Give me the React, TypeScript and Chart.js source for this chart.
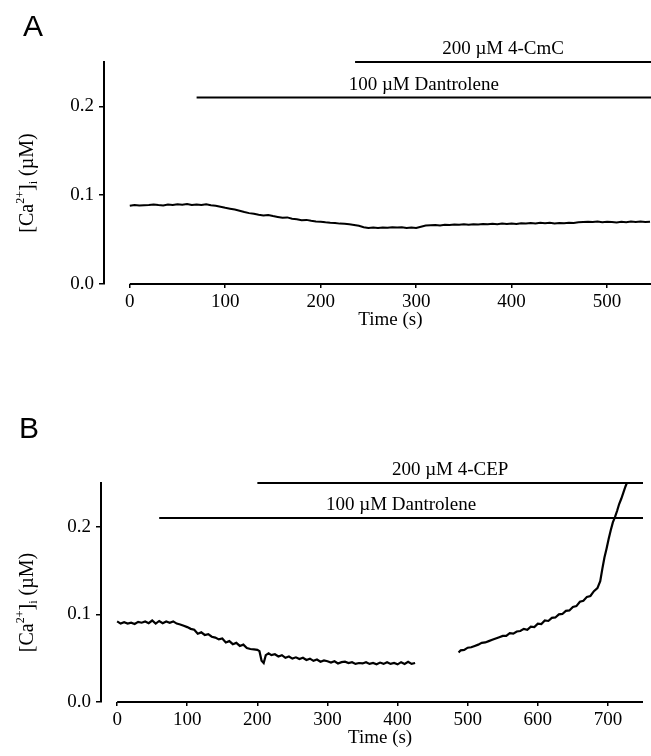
import React, { useEffect, useRef } from "react";
import { Chart, registerables } from "chart.js";
Chart.register(...registerables);

// ---------- Panel A ----------
const timeA = [
  0, 5, 10, 15, 20, 25, 30, 35, 40, 45,
  50, 55, 60, 65, 70, 75, 80, 85, 90, 95,
  100, 105, 110, 115, 120, 125, 130, 135, 140, 145,
  150, 155, 160, 165, 170, 175, 180, 185, 190, 195,
  200, 205, 210, 215, 220, 225, 230, 235, 240, 245,
  250, 255, 260, 265, 270, 275, 280, 285, 290, 295,
  300, 305, 310, 315, 320, 325, 330, 335, 340, 345,
  350, 355, 360, 365, 370, 375, 380, 385, 390, 395,
  400, 405, 410, 415, 420, 425, 430, 435, 440, 445,
  450, 455, 460, 465, 470, 475, 480, 485, 490, 495,
  500, 505, 510, 515, 520, 525, 530, 535, 540, 545,
];
const caA = [
  0.088, 0.089, 0.0883, 0.0887, 0.089, 0.0896, 0.0889, 0.0884, 0.0895, 0.0891,
  0.0899, 0.0893, 0.0901, 0.0889, 0.0894, 0.0891, 0.0897, 0.0888, 0.0881, 0.087,
  0.0858, 0.0848, 0.0838, 0.0825, 0.081, 0.0798, 0.079, 0.078, 0.0772, 0.0778,
  0.0765, 0.0755, 0.0745, 0.075, 0.0735, 0.0728, 0.0718, 0.0722, 0.0712, 0.0705,
  0.0702, 0.0695, 0.069, 0.0688, 0.068, 0.0678, 0.0672, 0.0665, 0.0655, 0.064,
  0.0632, 0.0635, 0.063, 0.0636, 0.0633, 0.064, 0.0635, 0.0638, 0.0631, 0.0636,
  0.0632, 0.0645, 0.0658, 0.0662, 0.0665, 0.066, 0.0668, 0.0664, 0.067, 0.0666,
  0.0672, 0.0667, 0.0674, 0.0671, 0.0676, 0.0672, 0.0679, 0.0674, 0.068, 0.0676,
  0.0682, 0.0677, 0.0684, 0.0681, 0.0686, 0.0682, 0.0689, 0.0684, 0.069, 0.0682,
  0.0688, 0.0684, 0.0691, 0.0686, 0.0695, 0.0698, 0.0702, 0.0697, 0.0705, 0.0696,
  0.0702, 0.0698, 0.0694, 0.07, 0.0696, 0.0703, 0.0698, 0.0703, 0.0699, 0.0702,
];
const xTicksA = [0, 100, 200, 300, 400, 500];
const xMinA = -27;
const xMaxA = 546;
const treatLabelsA = ["200 µM 4-CmC", "100 µM Dantrolene"];
const treatStartA = [236, 70];
const treatEndA = [546, 546];
const treatLevelA = [0.25, 0.21];

// ---------- Panel B ----------
const timeB = [
  0, 5, 10, 15, 20, 25, 30, 35, 40, 45,
  50, 55, 60, 65, 70, 75, 80, 85, 90, 95,
  100, 105, 110, 115, 120, 125, 130, 135, 140, 145,
  150, 155, 160, 165, 170, 175, 180, 185, 190, 195,
  200, 203, 206, 209, 212, 216, 220, 225, 230, 235,
  240, 245, 250, 255, 260, 265, 270, 275, 280, 285,
  290, 295, 300, 305, 310, 315, 320, 325, 330, 335,
  340, 345, 350, 355, 360, 365, 370, 375, 380, 385,
  390, 395, 400, 405, 410, 415, 420, 425,
  455,
  487, 490, 495, 500, 505, 510, 515, 520, 525, 530,
  535, 540, 545, 550, 555, 560, 565, 570, 575, 580,
  585, 590, 595, 600, 605, 610, 615, 620, 625, 630,
  635, 640, 645, 650, 655, 660, 665, 670, 675, 680,
  685, 689, 692, 695, 698, 701, 704, 707, 710, 713,
  716, 719, 722, 725, 728,
];
const caB = [
  0.092, 0.0895, 0.091, 0.0895, 0.0905, 0.089, 0.0915, 0.0905, 0.092, 0.09,
  0.093, 0.0895, 0.0925, 0.09, 0.092, 0.0905, 0.092, 0.0895, 0.0885, 0.087,
  0.0855, 0.0835, 0.0825, 0.078, 0.0795, 0.0765, 0.0775, 0.0745, 0.0735, 0.0715,
  0.0725, 0.068, 0.0695, 0.066, 0.0675, 0.064, 0.0655, 0.0615, 0.0605, 0.06,
  0.0595, 0.058, 0.047, 0.0445, 0.0535, 0.0555, 0.0535, 0.0545, 0.052, 0.0535,
  0.0505, 0.052, 0.0495, 0.051, 0.049, 0.0505, 0.048, 0.0495, 0.047, 0.0485,
  0.046, 0.0475, 0.0465, 0.045, 0.0465, 0.044, 0.0455, 0.046, 0.0445, 0.0455,
  0.0435, 0.0445, 0.044, 0.0455, 0.0435, 0.0445, 0.043, 0.045, 0.0435, 0.0455,
  0.0435, 0.0445, 0.043, 0.0455, 0.0435, 0.046, 0.0435, 0.0445,
  null,
  0.0565, 0.059, 0.0595, 0.062, 0.0625, 0.064, 0.0655, 0.0675, 0.068, 0.0695,
  0.071, 0.0725, 0.074, 0.0755, 0.0755, 0.0785, 0.078, 0.0805, 0.081, 0.0835,
  0.0825, 0.086, 0.0855, 0.0895, 0.089, 0.093, 0.0925, 0.096, 0.0965, 0.1,
  0.1005, 0.104, 0.1045, 0.1085, 0.1095, 0.1145, 0.1155, 0.12, 0.121, 0.1265,
  0.13, 0.138, 0.152, 0.165, 0.175, 0.186, 0.196, 0.205, 0.211, 0.218,
  0.226, 0.232, 0.239, 0.246, 0.252,
];
const xTicksB = [0, 100, 200, 300, 400, 500, 600, 700];
const xMinB = -23;
const xMaxB = 750;
const treatLabelsB = ["200 µM 4-CEP", "100 µM Dantrolene"];
const treatStartB = [200, 60];
const treatEndB = [750, 750];
const treatLevelB = [0.25, 0.21];

// ---------- shared ----------
const yTicks = [0, 0.1, 0.2];
const yMax = 0.25;
const xTitle = "Time (s)";

const SERIF = "'Liberation Serif', 'Times New Roman', serif";
const SANS = "'Liberation Sans', Arial, sans-serif";

type PanelCfg = {
  letter: string;
  letterX: number;
  letterY: number;
  time: number[];
  ca: (number | null)[];
  xTicks: number[];
  xMin: number;
  xMax: number;
  labels: string[];
  starts: number[];
  ends: number[];
  levels: number[];
  canvasW: number;
  canvasH: number;
  areaTop: number;
  areaBottom: number;
  areaLeft: number;
  areaRight: number;
  traceWidth: number;
};

function makeChart(canvas: HTMLCanvasElement, p: PanelCfg) {
  const textPlugin = {
    id: "figText" + p.letter,
    afterDraw(chart: any) {
      const ctx = chart.ctx as CanvasRenderingContext2D;
      const xs = chart.scales.x;
      const ys = chart.scales.y;
      const area = chart.chartArea;
      ctx.save();
      ctx.fillStyle = "#000";
      // panel letter
      ctx.font = `30px ${SANS}`;
      ctx.textAlign = "center";
      ctx.textBaseline = "middle";
      ctx.fillText(p.letter, p.letterX, p.letterY);
      // treatment labels
      ctx.font = `19px ${SERIF}`;
      p.labels.forEach((lab, i) => {
        const x = (xs.getPixelForValue(p.starts[i]) + xs.getPixelForValue(p.ends[i])) / 2;
        const y = ys.getPixelForValue(p.levels[i]) - 13;
        ctx.fillText(lab, x, y);
      });
      // x title
      const tx = (xs.getPixelForValue(p.xTicks[0]) + xs.getPixelForValue(p.xMax)) / 2;
      ctx.fillText(xTitle, tx, area.bottom + 36);
      // y title with super/subscript
      const pieces = [
        { t: "[Ca", s: 20, dy: 0 },
        { t: "2+", s: 12, dy: -9 },
        { t: "]", s: 20, dy: 0 },
        { t: "i", s: 12, dy: 4 },
        { t: " (µM)", s: 20, dy: 0 },
      ];
      let total = 0;
      const widths = pieces.map((pc) => {
        ctx.font = `${pc.s}px ${SERIF}`;
        const w = ctx.measureText(pc.t).width;
        total += w;
        return w;
      });
      const cy = (area.top + area.bottom) / 2 + 10;
      ctx.translate(26, cy);
      ctx.rotate(-Math.PI / 2);
      ctx.textAlign = "left";
      ctx.textBaseline = "alphabetic";
      let cx = -total / 2;
      pieces.forEach((pc, i) => {
        ctx.font = `${pc.s}px ${SERIF}`;
        ctx.fillText(pc.t, cx, 7 + pc.dy);
        cx += widths[i];
      });
      ctx.restore();
    },
  };

  const datasets: any[] = [
    {
      data: p.time.map((t, i) => ({ x: t, y: p.ca[i] })),
      borderColor: "#000",
      borderWidth: p.traceWidth,
      pointRadius: 0,
      spanGaps: false,
      tension: 0,
    },
    {
      data: [
        { x: p.xTicks[0], y: 0 },
        { x: p.xMax, y: 0 },
      ],
      borderColor: "#000",
      borderWidth: 2,
      pointRadius: 0,
      clip: false,
    },
    ...p.levels.map((lv, i) => ({
      data: [
        { x: p.starts[i], y: lv },
        { x: p.ends[i], y: lv },
      ],
      borderColor: "#000",
      borderWidth: 2,
      pointRadius: 0,
      clip: false,
    })),
  ];

  return new Chart(canvas, {
    type: "line",
    data: { datasets },
    plugins: [textPlugin],
    options: {
      animation: false,
      responsive: false,
      events: [],
      layout: {
        padding: { top: p.areaTop, left: 0, right: p.canvasW - p.areaRight, bottom: 0 },
      },
      plugins: { legend: { display: false }, tooltip: { enabled: false } },
      scales: {
        x: {
          type: "linear",
          min: p.xMin,
          max: p.xMax,
          afterBuildTicks: (s: any) => {
            s.ticks = p.xTicks.map((v) => ({ value: v }));
          },
          afterFit: (s: any) => {
            s.height = p.canvasH - p.areaBottom;
          },
          border: { display: false },
          grid: { drawOnChartArea: false, drawTicks: true, tickLength: 4, color: "#000", lineWidth: 1.5 },
          ticks: {
            color: "#000",
            font: { size: 19, family: SERIF },
            padding: 3,
            maxRotation: 0,
            autoSkip: false,
            callback: (v: any) => String(v),
          },
        },
        y: {
          type: "linear",
          min: 0,
          max: yMax,
          afterBuildTicks: (s: any) => {
            s.ticks = yTicks.map((v) => ({ value: v }));
          },
          afterFit: (s: any) => {
            s.width = p.areaLeft;
          },
          border: { display: true, color: "#000", width: 2 },
          grid: { drawOnChartArea: false, drawTicks: true, tickLength: 5, color: "#000", lineWidth: 1.5 },
          ticks: {
            color: "#000",
            font: { size: 19, family: SERIF },
            padding: 5,
            callback: (v: any) => Number(v).toFixed(1),
          },
        },
      },
    } as any,
  });
}

const panelA: PanelCfg = {
  letter: "A",
  letterX: 33,
  letterY: 28,
  time: timeA,
  ca: caA,
  xTicks: xTicksA,
  xMin: xMinA,
  xMax: xMaxA,
  labels: treatLabelsA,
  starts: treatStartA,
  ends: treatEndA,
  levels: treatLevelA,
  canvasW: 651,
  canvasH: 345,
  areaTop: 62,
  areaBottom: 284,
  areaLeft: 104,
  areaRight: 651,
  traceWidth: 2,
};

const panelB: PanelCfg = {
  letter: "B",
  letterX: 29,
  letterY: 60,
  time: timeB,
  ca: caB,
  xTicks: xTicksB,
  xMin: xMinB,
  xMax: xMaxB,
  labels: treatLabelsB,
  starts: treatStartB,
  ends: treatEndB,
  levels: treatLevelB,
  canvasW: 651,
  canvasH: 386,
  areaTop: 113,
  areaBottom: 332,
  areaLeft: 101,
  areaRight: 643,
  traceWidth: 2.2,
};

export default function App() {
  const refA = useRef<HTMLCanvasElement | null>(null);
  const refB = useRef<HTMLCanvasElement | null>(null);

  useEffect(() => {
    document.body.style.margin = "0";
    document.body.style.background = "#fff";
    Chart.defaults.font.family = SERIF;
    Chart.defaults.color = "#000";
    const a = refA.current ? makeChart(refA.current, panelA) : null;
    const b = refB.current ? makeChart(refB.current, panelB) : null;
    return () => {
      a?.destroy();
      b?.destroy();
    };
  }, []);

  return (
    <div style={{ position: "relative", width: 651, height: 756, background: "#fff" }}>
      <canvas
        ref={refA}
        width={panelA.canvasW}
        height={panelA.canvasH}
        style={{ position: "absolute", left: 0, top: 0, width: panelA.canvasW, height: panelA.canvasH }}
      />
      <canvas
        ref={refB}
        width={panelB.canvasW}
        height={panelB.canvasH}
        style={{ position: "absolute", left: 0, top: 370, width: panelB.canvasW, height: panelB.canvasH }}
      />
    </div>
  );
}
